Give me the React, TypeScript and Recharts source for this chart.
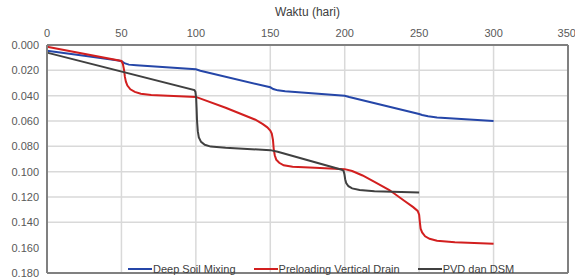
import React from 'react';
import { LineChart, Line, XAxis, YAxis, CartesianGrid, Legend } from 'recharts';

const xTicks = [0, 50, 100, 150, 200, 250, 300, 350];
const yTicks = [0, 0.02, 0.04, 0.06, 0.08, 0.1, 0.12, 0.14, 0.16, 0.18];

const dsmDays = [0, 25, 48, 50, 52, 55, 60, 100, 103, 150, 152, 155, 160, 200, 203, 250, 252, 256, 262, 300];
const dsmVals = [0.0045, 0.0085, 0.0122, 0.0128, 0.0143, 0.0155, 0.016, 0.0192, 0.0203, 0.0334, 0.0348, 0.0358, 0.0365, 0.04, 0.041, 0.0545, 0.0553, 0.0563, 0.0572, 0.06];

const pvdDays = [0, 50, 51, 51.8, 52.3, 53, 54, 56, 59, 63, 70, 85, 100, 120, 140, 145, 148, 150, 151, 151.8, 152.3, 153, 154, 156, 159, 165, 180, 200, 205, 212, 220, 230, 240, 246, 249, 250, 250.5, 251, 252, 254, 257, 262, 274, 300];
const pvdVals = [0.0013, 0.0126, 0.015, 0.02, 0.025, 0.029, 0.032, 0.035, 0.037, 0.0385, 0.0395, 0.0403, 0.041, 0.0495, 0.059, 0.0625, 0.065, 0.0675, 0.07, 0.075, 0.082, 0.087, 0.0905, 0.093, 0.095, 0.0962, 0.097, 0.098, 0.0995, 0.103, 0.108, 0.1145, 0.123, 0.128, 0.131, 0.134, 0.14, 0.145, 0.148, 0.151, 0.153, 0.1545, 0.1557, 0.157];

const combDays = [0, 99, 99.7, 100.2, 100.5, 100.8, 101.3, 102, 103.5, 106, 110, 120, 150, 155, 198, 199.3, 199.8, 200.3, 201, 202.5, 205, 210, 220, 250];
const combVals = [0.006, 0.0356, 0.037, 0.042, 0.05, 0.06, 0.068, 0.073, 0.0765, 0.0788, 0.0802, 0.0812, 0.083, 0.0843, 0.0985, 0.0995, 0.102, 0.106, 0.109, 0.1115, 0.1132, 0.1145, 0.1155, 0.1165];

const seriesNames = ['Deep Soil Mixing', 'Preloading Vertical Drain', 'PVD dan DSM'];
const seriesColors = ['#2546a8', '#d21f1f', '#404040'];

const toRows = (days: number[], vals: number[]) => days.map((d, i) => ({ x: d, y: vals[i] }));

const dsmData = toRows(dsmDays, dsmVals);
const pvdData = toRows(pvdDays, pvdVals);
const combData = toRows(combDays, combVals);

const FONT = '"Liberation Sans", Arial, sans-serif';
const FRAME_COLOR = '#808080';

const renderLegend = () => (
  <div style={{ display: 'flex', alignItems: 'center', fontFamily: FONT, fontSize: 11, color: '#404040', lineHeight: '14px', whiteSpace: 'nowrap' }}>
    {seriesNames.map((n, i) => (
      <div key={n} style={{ display: 'flex', alignItems: 'center', marginRight: 18 }}>
        <span style={{ display: 'inline-block', width: 24, height: 2, background: seriesColors[i], marginRight: 1 }} />
        <span>{n}</span>
      </div>
    ))}
  </div>
);

export default function App() {
  return (
    <div style={{ position: 'absolute', left: 0, top: 0, width: 575, height: 279, background: '#fff' }}>
      <LineChart width={575} height={279} margin={{ top: 5, right: 6, bottom: 5, left: 7 }}>
        <CartesianGrid stroke="#d9d9d9" strokeWidth={1.5} />
        <XAxis
          type="number"
          dataKey="x"
          orientation="top"
          domain={[0, 350]}
          ticks={xTicks}
          height={40}
          stroke={FRAME_COLOR}
          strokeWidth={2}
          axisLine
          tickLine={false}
          tick={{ fill: '#595959', fontSize: 11, fontFamily: FONT }}
          label={{ value: 'Waktu (hari)', position: 'insideTop', offset: 2, fill: '#404040', fontSize: 12, fontFamily: FONT }}
          allowDuplicatedCategory={false}
        />
        <XAxis
          xAxisId="frameBottom"
          type="number"
          dataKey="x"
          orientation="bottom"
          domain={[0, 350]}
          height={1}
          stroke={FRAME_COLOR}
          strokeWidth={2}
          axisLine
          tickLine={false}
          tick={false}
        />
        <YAxis
          type="number"
          domain={[0, 0.18]}
          ticks={yTicks}
          reversed
          width={40}
          stroke={FRAME_COLOR}
          strokeWidth={2}
          axisLine
          tickLine={false}
          tickFormatter={(v: number) => v.toFixed(3)}
          tick={{ fill: '#595959', fontSize: 11, fontFamily: FONT }}
        />
        <YAxis
          yAxisId="frameRight"
          type="number"
          orientation="right"
          domain={[0, 0.18]}
          width={1}
          stroke={FRAME_COLOR}
          strokeWidth={2}
          axisLine
          tickLine={false}
          tick={false}
        />
        <Line data={dsmData} dataKey="y" name={seriesNames[0]} type="linear" stroke={seriesColors[0]} strokeWidth={2} dot={false} isAnimationActive={false} />
        <Line data={pvdData} dataKey="y" name={seriesNames[1]} type="linear" stroke={seriesColors[1]} strokeWidth={2} dot={false} isAnimationActive={false} />
        <Line data={combData} dataKey="y" name={seriesNames[2]} type="linear" stroke={seriesColors[2]} strokeWidth={2} dot={false} isAnimationActive={false} />
        <Legend layout="horizontal" verticalAlign="middle" align="center" content={renderLegend} wrapperStyle={{ top: 262, left: 128, width: 440 }} />
      </LineChart>
    </div>
  );
}
